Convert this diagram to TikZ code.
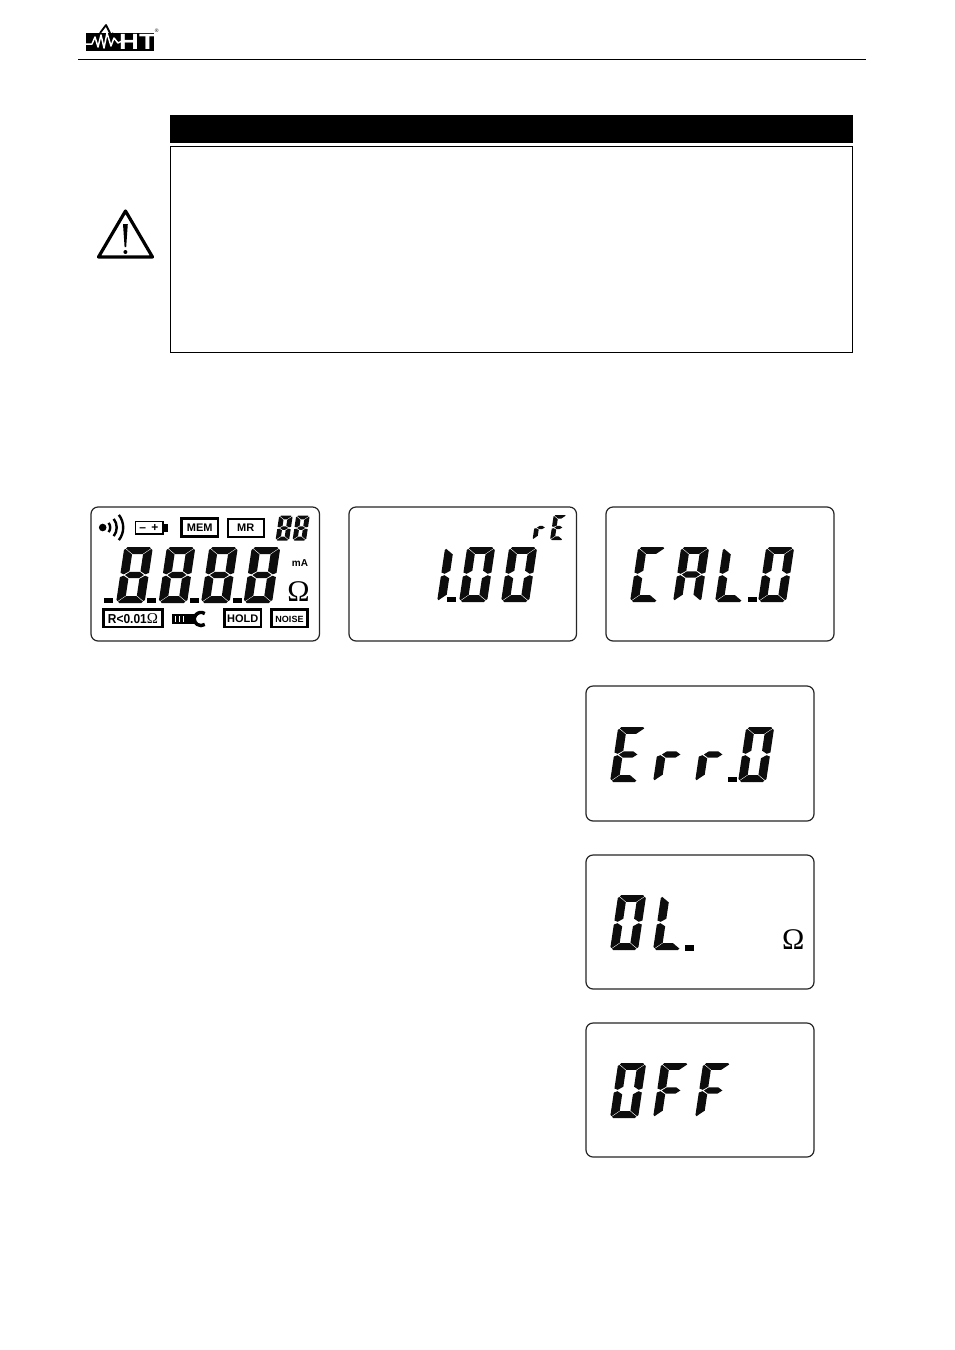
\documentclass[tikz,border=0pt]{standalone}
\usepackage{fontspec}
\setmainfont{Liberation Sans}
\newfontfamily\omfont{Liberation Serif}
\tikzset{x=1pt,y=1pt,
  panel/.style={draw=black!85,line width=1.2pt,rounded corners=7pt,fill=white},
  tagbox/.style={draw=black,line width=2.4pt,fill=white},
  lbl/.style={inner sep=0pt,outer sep=0pt,text=black},
  omega/.style={lbl,font=\omfont\fontsize{30}{30}\selectfont},
  segfill/.style={fill=black!95}}
\newcommand{\sz}[1]{\fontsize{#1}{#1}\selectfont\bfseries}
% seven segment parts, drawn in the local frame of one digit
\def\sega{\fill[segfill] ({\dK},{\dH}) -- ({\dW-\dK},{\dH}) -- ({\dW-\dK/2-.3},{\dH-\dK/2+.1}) -- ({\dW-\dS-.5},{\dH-\dT}) -- ({\dS+.5},{\dH-\dT}) -- ({\dK/2+.3},{\dH-\dK/2+.1}) -- cycle;}
\def\segf{\fill[segfill] (0,{\dH-\dK}) -- ({\dK/2-.3},{\dH-\dK/2-.3}) -- ({\dS},{\dH-\dT-.5}) -- ({\dS},{\dM+\dT*.55}) -- ({\dS*.4},{\dM+.7}) -- (0,{\dM+\dT*.3}) -- cycle;}
\def\segg{\fill[segfill] ({\dS*.55},{\dM}) -- ({\dS+.6},{\dM+\dT*.45}) -- ({\dW-\dS-.6},{\dM+\dT*.45}) -- ({\dW-\dS*.55},{\dM}) -- ({\dW-\dS-.6},{\dM-\dT*.45}) -- ({\dS+.6},{\dM-\dT*.45}) -- cycle;}
\def\segd{\begin{scope}[shift={(0,\dH)},yscale=-1]\sega\end{scope}}
\def\sege{\begin{scope}[shift={(0,\dH)},yscale=-1]\segf\end{scope}}
\def\segb{\begin{scope}[shift={(\dW,0)},xscale=-1]\segf\end{scope}}
\def\segc{\begin{scope}[shift={(\dW,\dH)},xscale=-1,yscale=-1]\segf\end{scope}}
% x-left at bottom, y of bottom, width, height, thickness, segment list
\newcommand{\sevseg}[6]{%
  \begin{scope}[shift={(#1,-#2)},xslant=.15]
    \pgfmathsetmacro\dW{#3}\pgfmathsetmacro\dH{#4}\pgfmathsetmacro\dT{#5}
    \pgfmathsetmacro\dM{#4/2}\pgfmathsetmacro\dK{#5*.45}\pgfmathsetmacro\dS{#5*1.25}
    \foreach \s in {#6}{\csname seg\s\endcsname}
  \end{scope}}
\newcommand{\bigseg}[3]{\sevseg{#1}{#2}{28}{55}{6.9}{#3}}
\newcommand{\lcddot}[2]{\fill[black] (#1,-#2) rectangle ++(9,5.5);}
\begin{document}
\begin{tikzpicture}
\useasboundingbox (0,0) rectangle (954,-1350);
\fill[white] (0,0) rectangle (954,-1350);

% header
\draw[line width=1pt] (78,-59.5) -- (866,-59.5);
\fill[black] (86,-32.5) rectangle (154,-51);
\draw[white,line width=1.5pt,line join=round] (83,-44) -- (92,-44) -- (95,-37) -- (98,-47) -- (101,-35) -- (104,-48) -- (107,-33) -- (111,-46) -- (114,-38) -- (118,-43) -- (122,-41);
\draw[black,line width=1.8pt,line join=round] (100,-33) -- (106,-25) -- (110,-33) (112,-33) -- (116,-37);
\node[lbl,text=white] (logoht) at (137.5,-41.8) {\sz{22}\scalebox{1.25}[1]{HT}};
\node[lbl] (logoreg) at (156.6,-31) {\fontsize{5}{5}\selectfont ®};

% warning
\fill[black] (170,-115) rectangle (853,-143);
\draw[black,line width=1pt] (170.5,-146.5) rectangle (852.5,-352.5);
\draw[black,line width=3.2pt,line join=round] (125.5,-211) -- (98.5,-257) -- (152.5,-257) -- cycle;
\fill[black] (123,-224) -- (127.8,-224) -- (126.2,-247) -- (124.6,-247) -- cycle;
\fill[black] (125.4,-252) circle (2);

% panel 1
\draw[panel] (91,-507) rectangle (319.5,-641);
\fill[black] (102.7,-527.5) circle (3.8);
\foreach \r in {7.5,14,20.5}
  \draw[black,line width=2.4pt] ({102.7+\r*cos(38)},{-527.5+\r*sin(38)}) arc[start angle=38,end angle=-38,radius=\r];
\draw[black,line width=1.9pt] (135.5,-521.5) rectangle (163,-534);
\fill[black] (163,-523.5) rectangle (167.5,-532);
\node[lbl] (batt) at (149,-527.5) {\sz{12}– \,+};
\draw[tagbox] (181.5,-518.5) rectangle (218,-536.5);
\node[lbl] (mem) at (199.7,-527.7) {\sz{11}MEM};
\draw[tagbox,line width=2pt] (227.5,-518.5) rectangle (264,-536.5);
\node[lbl] (mr) at (245.7,-527.7) {\sz{11}MR};
\sevseg{275.5}{540.5}{13.5}{25}{3.9}{a,b,c,d,e,f,g}
\sevseg{292.5}{540.5}{13.5}{25}{3.9}{a,b,c,d,e,f,g}
\foreach \px in {116,158.5,201,243.5}{\sevseg{\px}{603}{28.5}{56}{7}{a,b,c,d,e,f,g}}
\foreach \px in {104,147,190,233}{\lcddot{\px}{603}}
\node[lbl] (ma) at (300,-563) {\sz{10}mA};
\node[omega] (om1) at (298.5,-591.5) {Ω};
\draw[tagbox] (103.5,-609.5) rectangle (162.5,-627);
\node[lbl] (rless) at (133,-619) {\sz{13}\scalebox{.92}[1]{R<0.01}{\omfont\mdseries\fontsize{15}{15}\selectfont Ω}};
\fill[black] (172,-614) rectangle (196,-623.5);
\foreach \tx in {175,179,183}\fill[white] (\tx,-616) rectangle ++(1.4,-5.5);
\draw[black,line width=3.4pt] ({201+6.6*cos(55)},{-619+6.6*sin(55)}) arc[start angle=55,end angle=305,radius=6.6];
\draw[tagbox] (224.5,-609.5) rectangle (261,-627);
\node[lbl] (hold) at (242.7,-618.5) {\sz{11}HOLD};
\draw[tagbox] (271.5,-609.5) rectangle (307.5,-627);
\node[lbl] (noise) at (289.5,-619) {\sz{9}NOISE};

% panel 2
\draw[panel] (349,-507) rectangle (576.5,-641);
\sevseg{532.5}{540}{13}{25}{3.7}{e,g}
\sevseg{550}{540}{13}{25}{3.7}{a,d,e,f,g}
\bigseg{437}{602}{e,f}
\lcddot{447}{602}
\bigseg{459}{602}{a,b,c,d,e,f}
\bigseg{501}{602}{a,b,c,d,e,f}

% panel 3
\draw[panel] (606,-507) rectangle (834,-641);
\bigseg{630}{602}{a,d,e,f}
\bigseg{673}{602}{a,b,c,e,f,g}
\bigseg{715}{602}{d,e,f}
\lcddot{748}{602}
\bigseg{758}{602}{a,b,c,d,e,f}

% panel 4
\draw[panel] (586,-686) rectangle (814,-821);
\bigseg{610}{782}{a,d,e,f,g}
\bigseg{653}{782}{e,g}
\bigseg{695}{782}{e,g}
\lcddot{728}{782}
\bigseg{738}{782}{a,b,c,d,e,f}

% panel 5
\draw[panel] (586,-855) rectangle (814,-989);
\bigseg{610}{950}{a,b,c,d,e,f}
\bigseg{653}{950}{d,e,f}
\lcddot{685}{950.5}
\node[omega] (om2) at (793.3,-939.5) {Ω};

% panel 6
\draw[panel] (586,-1023) rectangle (814,-1157);
\bigseg{610}{1118}{a,b,c,d,e,f}
\bigseg{653}{1118}{a,e,f,g}
\bigseg{695}{1118}{a,e,f,g}
\end{tikzpicture}
\end{document}
